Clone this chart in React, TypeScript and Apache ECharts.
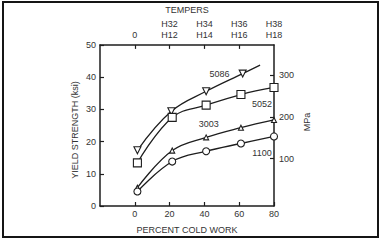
import React, { useEffect, useRef } from "react";
import * as echarts from "echarts";

// ---- data ----
const coldWork = [1.5, 21.5, 41, 61, 80];
const coldWork5086 = [1.5, 21, 41, 62, 72];
const alloy5086 = [17.3, 29.4, 35.6, 41.1, 43.7];
const alloy5052 = [13.4, 27.5, 31.3, 34.6, 36.8];
const alloy3003 = [5.7, 17.2, 21.3, 24.3, 26.7];
const alloy1100 = [4.5, 13.8, 17.0, 19.4, 21.6];

const xTicks = [0, 20, 40, 60, 80];
const temperTicks = [0, 20, 40, 60];
const temperUpper = ["", "H32", "H34", "H36", "H38"];
const temperLower = ["0", "H12", "H14", "H16", "H18"];
const mpaTicks = [100, 200, 300];

const FONT = "Liberation Sans, Arial, sans-serif";
const LINE = "#1e1e1e";
const TEXT = "#333";

function pts(xs: number[], ys: number[]) {
  return xs.map((x, i) => [x, ys[i]]);
}

export default function App() {
  const ref = useRef<HTMLDivElement>(null);
  useEffect(() => {
    document.body.style.margin = "0";
    const chart = echarts.init(ref.current!, null, { renderer: "svg" });
    const lineStyle = { color: LINE, width: 1.3 };
    const itemStyle = { color: "#fff", borderColor: LINE, borderWidth: 1.1 };
    const labelBase = { show: true, color: TEXT, fontSize: 9, fontFamily: FONT };

    const d5086: any[] = pts(coldWork5086, alloy5086).map((v) => ({ value: v }));
    d5086[3].label = { ...labelBase, formatter: "5086", position: "left", distance: 9 };
    d5086[4].symbol = "none";

    const d5052: any[] = pts(coldWork, alloy5052).map((v) => ({ value: v }));
    d5052[4].label = { ...labelBase, formatter: "5052", position: "bottom", distance: 8, offset: [-12, 0] };

    const d3003: any[] = pts(coldWork, alloy3003).map((v) => ({ value: v }));
    d3003[3].label = { ...labelBase, formatter: "3003", position: "left", distance: 19, offset: [0, -4] };

    const d1100: any[] = pts(coldWork, alloy1100).map((v) => ({ value: v }));
    d1100[4].label = { ...labelBase, formatter: "1100", position: "bottom", distance: 8, offset: [-12, 0] };

    const axisLine = { show: true, onZero: false, lineStyle: { color: LINE, width: 1.5 } };

    chart.setOption({
      animation: false,
      textStyle: { fontFamily: FONT },
      grid: { left: 100, right: 109, top: 42, bottom: 37 },
      xAxis: [
        {
          type: "value",
          position: "bottom",
          min: -20,
          max: 80,
          interval: 20,
          axisLine,
          splitLine: { show: false },
          axisTick: { inside: true, length: 4, customValues: xTicks, lineStyle: { color: LINE, width: 1.2 } },
          axisLabel: { customValues: xTicks, color: TEXT, fontSize: 9, fontFamily: FONT, margin: 3 },
          name: "PERCENT COLD WORK",
          nameLocation: "middle",
          nameGap: 19,
          nameTextStyle: { color: TEXT, fontSize: 9, fontFamily: FONT },
        },
        {
          type: "value",
          position: "top",
          min: -20,
          max: 80,
          interval: 20,
          axisLine,
          splitLine: { show: false },
          axisTick: { inside: true, length: 4, customValues: temperTicks, lineStyle: { color: LINE, width: 1.2 } },
          axisLabel: {
            customValues: xTicks,
            color: TEXT,
            fontSize: 9,
            fontFamily: FONT,
            lineHeight: 11,
            margin: 4,
            formatter: (v: number) => {
              const i = xTicks.indexOf(v);
              if (i < 0) return "";
              return temperUpper[i] ? temperUpper[i] + "\n" + temperLower[i] : temperLower[i];
            },
          },
          name: "TEMPERS",
          nameLocation: "middle",
          nameGap: 27,
          nameTextStyle: { color: TEXT, fontSize: 9, fontFamily: FONT },
        },
      ],
      yAxis: [
        {
          type: "value",
          position: "left",
          min: 0,
          max: 50,
          interval: 10,
          axisLine,
          splitLine: { show: false },
          axisTick: { inside: true, length: 4, lineStyle: { color: LINE, width: 1.2 } },
          axisLabel: { color: TEXT, fontSize: 9, fontFamily: FONT, margin: 4 },
        },
        {
          type: "value",
          position: "right",
          min: -14,
          max: 373,
          axisLine,
          splitLine: { show: false },
          axisTick: { inside: true, length: 4, customValues: mpaTicks, lineStyle: { color: LINE, width: 1.2 } },
          axisLabel: { customValues: mpaTicks, color: TEXT, fontSize: 9, fontFamily: FONT, margin: 5 },
        },
      ],
      graphic: [
        {
          type: "rect",
          shape: { x: 3, y: 2, width: 375, height: 235 },
          style: { fill: "none", stroke: "#151515", lineWidth: 2 },
          silent: true,
        },
        {
          type: "text",
          x: 75,
          y: 130,
          rotation: Math.PI / 2,
          style: { text: "YIELD STRENGTH (ksi)", fill: TEXT, fontSize: 9, fontFamily: FONT, align: "center", verticalAlign: "middle" },
        },
        {
          type: "text",
          x: 307,
          y: 122,
          rotation: Math.PI / 2,
          style: { text: "MPa", fill: TEXT, fontSize: 9, fontFamily: FONT, align: "center", verticalAlign: "middle" },
        },
      ],
      series: [
        {
          name: "5086",
          type: "line",
          smooth: 0.4,
          data: d5086,
          symbol: "triangle",
          symbolRotate: 180,
          symbolSize: 7,
          lineStyle,
          itemStyle,
          z: 3,
        },
        {
          name: "5052",
          type: "line",
          smooth: 0.4,
          data: d5052,
          symbol: "rect",
          symbolSize: 8,
          lineStyle,
          itemStyle,
          z: 3,
        },
        {
          name: "3003",
          type: "line",
          smooth: 0.4,
          data: d3003,
          symbol: "triangle",
          symbolSize: 5,
          lineStyle,
          itemStyle,
          z: 3,
        },
        {
          name: "1100",
          type: "line",
          smooth: 0.4,
          data: d1100,
          symbol: "circle",
          symbolSize: 7,
          lineStyle,
          itemStyle,
          z: 3,
        },
      ],
    });
    return () => chart.dispose();
  }, []);
  return <div ref={ref} style={{ width: 383, height: 243 }} />;
}
